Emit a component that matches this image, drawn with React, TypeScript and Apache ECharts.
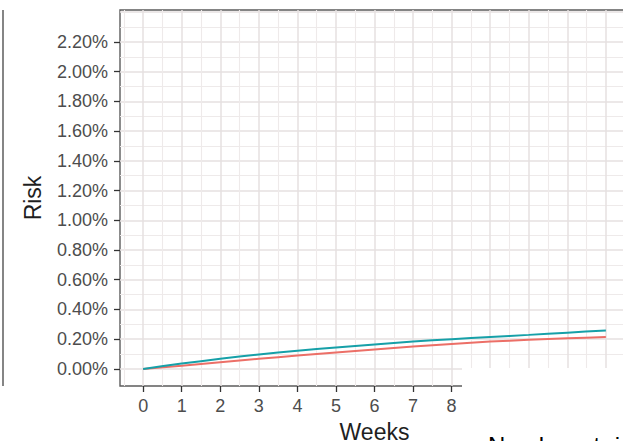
import React, { useEffect, useRef } from "react";
import * as echarts from "echarts";

const weeks = [0, 1, 2, 3, 4, 5, 6, 7, 8, 9, 10, 11, 12];
const riskTeal = [0, 0.036, 0.068, 0.097, 0.122, 0.144, 0.165, 0.184, 0.2, 0.215, 0.229, 0.244, 0.259];
const riskRed = [0, 0.022, 0.045, 0.068, 0.09, 0.111, 0.131, 0.15, 0.168, 0.184, 0.196, 0.206, 0.214];
const yTickValues = [0, 0.2, 0.4, 0.6, 0.8, 1.0, 1.2, 1.4, 1.6, 1.8, 2.0, 2.2];
const xTickValues = [0, 1, 2, 3, 4, 5, 6, 7, 8, 9, 10, 11, 12];
const yGridValues = [0, 0.1, 0.2, 0.3, 0.4, 0.5, 0.6, 0.7, 0.8, 0.9, 1.0, 1.1, 1.2, 1.3, 1.4, 1.5, 1.6, 1.7, 1.8, 1.9, 2.0, 2.1, 2.2, 2.3, 2.4];
const xGridValues = [-0.5, 0, 0.5, 1, 1.5, 2, 2.5, 3, 3.5, 4, 4.5, 5, 5.5, 6, 6.5, 7, 7.5, 8, 8.5, 9, 9.5, 10, 10.5, 11, 11.5, 12, 12.5];

export default function App() {
  const ref = useRef<HTMLDivElement>(null);
  useEffect(() => {
    if (!ref.current) return;
    const chart = echarts.init(ref.current, undefined, { renderer: "svg" });
    const isMajorY = (v: number) => Math.abs(v * 5 - Math.round(v * 5)) < 1e-6;
    const isMajorX = (v: number) => Math.abs(v - Math.round(v)) < 1e-6;
    const gridData: any[] = [];
    yGridValues.forEach((v) =>
      gridData.push({
        yAxis: v,
        lineStyle: { color: isMajorY(v) ? "#e6e0e0" : "#eeeaea", width: isMajorY(v) ? 1.5 : 1.1, type: "solid" },
      })
    );
    xGridValues.forEach((v) =>
      gridData.push({
        xAxis: v,
        lineStyle: { color: isMajorX(v) ? "#e6e0e0" : "#eeeaea", width: isMajorX(v) ? 1.5 : 1.1, type: "solid" },
      })
    );
    const font = "'Liberation Sans', Arial, Helvetica, sans-serif";
    chart.setOption({
      animation: false,
      backgroundColor: "#ffffff",
      grid: {
        left: 120,
        right: -6,
        top: 10,
        bottom: 55,
        outerBoundsMode: "none",
        containLabel: false,
        show: true,
        backgroundColor: "#ffffff",
        borderColor: "#5c5c5c",
        borderWidth: 1.4,
      },
      xAxis: {
        type: "value",
        min: -0.6,
        max: 12.6,
        name: "Weeks",
        nameLocation: "middle",
        nameGap: 34,
        nameTextStyle: { fontFamily: font, fontSize: 23, color: "#1f1f1f" },
        axisLine: { show: false, onZero: false },
        axisTick: { show: true, customValues: xTickValues, length: 6, lineStyle: { color: "#333", width: 1.3 } },
        axisLabel: {
          customValues: xTickValues,
          fontFamily: font,
          fontSize: 18,
          color: "#4d4d4d",
          margin: 11,
        },
        splitLine: { show: false },
      },
      yAxis: {
        type: "value",
        min: -0.115,
        max: 2.415,
        name: "Risk",
        nameLocation: "middle",
        nameGap: 76,
        nameRotate: 90,
        nameTextStyle: { fontFamily: font, fontSize: 23, color: "#1f1f1f" },
        axisLine: { show: false, onZero: false },
        axisTick: { show: true, customValues: yTickValues, length: 6, lineStyle: { color: "#333", width: 1.3 } },
        axisLabel: {
          customValues: yTickValues,
          fontFamily: font,
          fontSize: 18,
          color: "#4d4d4d",
          margin: 12,
          formatter: (v: number) => v.toFixed(2) + "%",
        },
        splitLine: { show: false },
      },
      series: [
        {
          type: "line",
          data: [],
          silent: true,
          markLine: {
            silent: true,
            symbol: "none",
            z: 1,
            label: { show: false },
            emphasis: { disabled: true },
            data: gridData,
          },
        },
        {
          type: "line",
          z: 10,
          data: weeks.map((w, i) => [w, riskRed[i]]),
          showSymbol: false,
          smooth: 0.2,
          lineStyle: { color: "#ec6f67", width: 2 },
          itemStyle: { color: "#ec6f67" },
        },
        {
          type: "line",
          z: 11,
          data: weeks.map((w, i) => [w, riskTeal[i]]),
          showSymbol: false,
          smooth: 0.2,
          lineStyle: { color: "#16a0a8", width: 2 },
          itemStyle: { color: "#16a0a8" },
        },
      ],
      graphic: [
        {
          type: "line",
          shape: { x1: 3, y1: 10, x2: 3, y2: 386 },
          style: { stroke: "#5c5c5c", lineWidth: 1.5 },
          z: 100,
        },
        {
          type: "rect",
          shape: { x: 462, y: 368, width: 170, height: 80 },
          style: { fill: "#ffffff" },
          z: 100,
        },
        {
          type: "text",
          x: 488,
          y: 433,
          style: {
            text: "Number at risk",
            fontFamily: font,
            fontSize: 24,
            fill: "#000000",
            verticalAlign: "top",
          },
          z: 101,
        },
      ],
    });
    return () => chart.dispose();
  }, []);
  return (
    <div
      ref={ref}
      style={{ position: "absolute", left: 0, top: 0, width: 623, height: 441, overflow: "hidden" }}
    />
  );
}
